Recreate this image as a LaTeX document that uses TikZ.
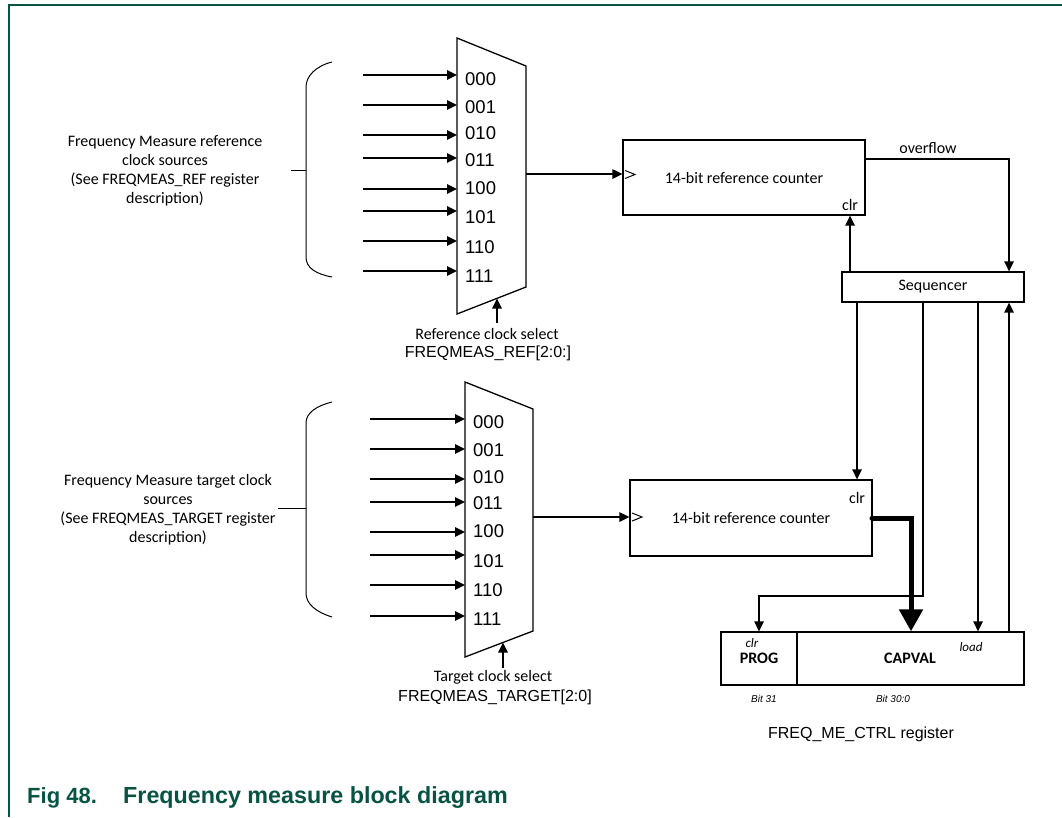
\documentclass[tikz,border=0pt]{standalone}
\usepackage{fontspec}
\setmainfont{Carlito}
\newfontfamily\arial{Liberation Sans}
\usetikzlibrary{arrows.meta,calc}
\definecolor{nxpgreen}{RGB}{8,84,68}
\begin{document}
\begin{tikzpicture}[x=1pt,y=-1pt,
  line join=miter,
  box/.style={draw,line width=1.3pt,inner sep=0pt},
  arr/.style={line width=1.4pt,-{Triangle[length=10pt,width=9.5pt]}},
  bus/.style={line width=5pt,line cap=round,-{Triangle[length=22pt,width=23pt]}},
  lbl/.style={inner sep=0pt,font=\fontsize{16}{19}\selectfont},
  sel/.style={inner sep=0pt,anchor=west,font=\arial\fontsize{18.5}{20}\selectfont},
  src/.style={inner sep=0pt,align=center,font=\fontsize{16}{19}\selectfont},
  ari/.style={inner sep=0pt,font=\arial\fontsize{16}{18}\selectfont},
  bit/.style={inner sep=0pt,font=\arial\itshape\fontsize{10}{12}\selectfont},
  ital/.style={inner sep=0pt,font=\itshape\fontsize{13}{15}\selectfont},
  bld/.style={inner sep=0pt,font=\bfseries\fontsize{16}{19}\selectfont},
  figcap/.style={inner sep=0pt,anchor=base west,text=nxpgreen,font=\arial\bfseries\fontsize{22}{26}\selectfont},
  figtit/.style={inner sep=0pt,anchor=base west,text=nxpgreen,font=\arial\bfseries\fontsize{23.3}{26}\selectfont}]
\useasboundingbox (0,0) rectangle (1062,817);
\fill[white] (0,0) rectangle (1062,817);
% frame
\draw[nxpgreen,line width=1.6pt] (1062,5) -- (9,5) -- (9,817);

% ===== top multiplexer =====
\draw[box] (457,38) -- (526,66) -- (526,287) -- (457,314) -- cycle;
\foreach \i/\ya/\yl/\t in {0/75/79/000,1/105/107/001,2/135/133/010,3/158/160/011,4/189/188/100,5/211/217/101,6/241/247/110,7/271/276/111}{
  \coordinate (rs\i) at (363,\ya);
  \coordinate (re\i) at (457,\ya);
  \draw[arr] (rs\i) -- (re\i);
  \node[sel] (rl\i) at (465,\yl) {\t};
}
\draw[line width=1pt] (332,62) .. controls (316,66) and (306,76) .. (306,87) -- (306,257) .. controls (306,268) and (316,274) .. (332,277);
\coordinate (rbr) at (306,170);
\coordinate (rtk) at (291,170);
\draw[line width=1pt] (rtk) -- (rbr);
\node[src] (rtext) at (165,170.5) {Frequency Measure reference\\clock sources\\(See FREQMEAS\_REF register\\description)};
% select
\coordinate (rsel0) at (497,323);
\coordinate (rsel1) at (497,298.5);
\draw[arr] (rsel0) -- (rsel1);
\node[lbl] (rseltxt) at (487,334) {Reference clock select};
\node[ari] (rselreg) at (488,353) {FREQMEAS\_REF[2:0:]};

% ===== top counter =====
\node[box,minimum width=242pt,minimum height=75pt,font=\fontsize{16}{19}\selectfont] (rc) at (744,177.5) {14-bit reference counter};
\coordinate (rmo) at (526,174);
\draw[arr] (rmo) -- (rc.west |- rmo);
\draw[line width=1pt] (625,170.5) -- (635,174.5) -- (625,178.5);
\node[lbl] (rclr) at (850,205) {clr};

% ===== sequencer =====
\node[box,minimum width=182pt,minimum height=30pt,font=\fontsize{16}{19}\selectfont] (seq) at (933,287) {Sequencer};
\node[lbl] (ovf) at (928,148) {overflow};
\coordinate (ovfa) at (865,159);
\coordinate (ovfb) at (1009,159);
\draw[arr] (ovfa) -- (ovfb) -- (seq.north -| ovfb);
\coordinate (clrx) at (850,260);
\draw[arr] (seq.north -| clrx) -- (rc.south -| clrx);

% ===== bottom multiplexer =====
\draw[box] (465,382) -- (533,409) -- (533,631) -- (465,657) -- cycle;
\foreach \i/\ya/\yl/\t in {0/419/422/000,1/449/450/001,2/479/477/010,3/502/503/011,4/532/531/100,5/555/561/101,6/585/590/110,7/616/619/111}{
  \coordinate (ts\i) at (370,\ya);
  \coordinate (te\i) at (465,\ya);
  \draw[arr] (ts\i) -- (te\i);
  \node[sel] (tl\i) at (473,\yl) {\t};
}
\draw[line width=1pt] (332,402) .. controls (316,406) and (306,413) .. (306,423) -- (306,593) .. controls (306,604) and (316,612) .. (332,617);
\coordinate (tbr) at (306,508);
\coordinate (ttk) at (278,508);
\draw[line width=1pt] (ttk) -- (tbr);
\node[src] (ttext) at (168,509.5) {Frequency Measure target clock\\sources\\(See FREQMEAS\_TARGET register\\description)};
\coordinate (tsel0) at (503,668);
\coordinate (tsel1) at (503,642.5);
\draw[arr] (tsel0) -- (tsel1);
\node[lbl] (tseltxt) at (493,677) {Target clock select};
\node[ari] (tselreg) at (495,697) {FREQMEAS\_TARGET[2:0]};

% ===== bottom counter =====
\node[box,minimum width=242pt,minimum height=76pt,font=\fontsize{16}{19}\selectfont] (tc) at (751,518) {14-bit reference counter};
\coordinate (tmo) at (533,517);
\draw[arr] (tmo) -- (tc.west |- tmo);
\draw[line width=1pt] (632,513) -- (642,517) -- (632,521);
\node[lbl] (tclr) at (857,498) {clr};

% ===== register =====
\node[box,minimum width=76pt,minimum height=53pt] (prog) at (759,658.5) {};
\node[box,minimum width=227pt,minimum height=53pt] (capv) at (910.5,658.5) {};
\node[bld] (progt) at (759,658) {PROG};
\node[bld] (capt) at (910,658) {CAPVAL};
\node[ital] (pclr) at (752,643) {clr};
\node[ital] (load) at (971,647) {load};
\node[bit] (b31) at (764,699) {Bit 31};
\node[bit] (b30) at (893,699) {Bit 30:0};
\node[ari] (regname) at (861,734) {FREQ\_ME\_CTRL register};

% ===== sequencer connections =====
\coordinate (x1) at (857,400);
\draw[arr] (seq.south -| x1) -- (tc.north -| x1);
\coordinate (x2a) at (923,596);
\coordinate (x2b) at (759,596);
\draw[arr] (seq.south -| x2a) -- (x2a) -- (x2b) -- (prog.north -| x2b);
\coordinate (x3) at (978,400);
\draw[arr] (seq.south -| x3) -- (capv.north -| x3);
\coordinate (x4) at (1009,400);
\draw[arr] (capv.north -| x4) -- (seq.south -| x4);
% bus
\coordinate (busa) at (872,518);
\coordinate (busb) at (911,518);
\draw[bus] (busa) -- (busb) -- (capv.north -| busb);

% caption
\node[figcap] (figno) at (27,803) {Fig 48.};
\node[figtit] (figtitle) at (123,803) {Frequency measure block diagram};
\end{tikzpicture}
\end{document}
